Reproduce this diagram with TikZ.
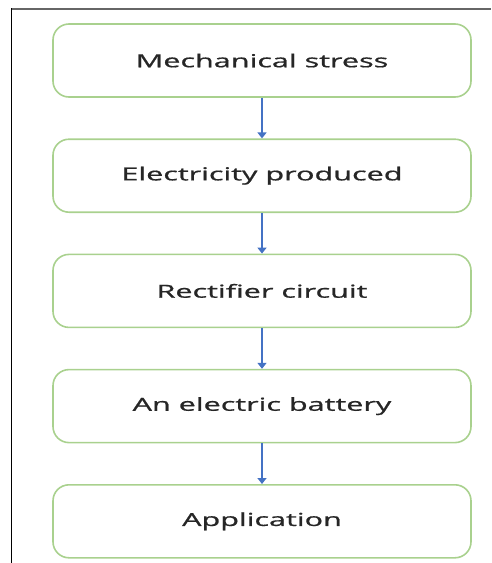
\documentclass[tikz,border=0pt]{standalone}
\usepackage{fontspec}
\setmainfont{Open Sans}
\newfontfamily\stagefont{Open Sans}[FakeBold=0.7]
\usepackage{xcolor}
\usetikzlibrary{arrows.meta, positioning}

\definecolor{boxgreen}{RGB}{169,209,142}
\definecolor{arrowblue}{RGB}{68,114,196}
\newcommand{\widetext}[1]{\scalebox{1.7}[1]{#1}}

\begin{document}
\begin{tikzpicture}[x=1pt, y=-1pt, node distance=40.6pt]
\tikzstyle{stage} = [rectangle, minimum width=418pt, minimum height=73pt, text centered, draw=boxgreen, line width=1.6pt, fill=white, rounded corners=16pt, font=\stagefont\fontsize{18pt}{20pt}\selectfont, text=black!85]
\tikzstyle{arrow} = [draw=arrowblue, line width=1.6pt, -{Triangle[width=9pt,length=6pt]}]

\useasboundingbox (0,0) rectangle (491,563);
% page frame
\draw[black!60, line width=1.4pt] (11,9) -- (491,9);
\draw[black, line width=1.4pt] (11.5,8.3) -- (11.5,563);

\node (stress) [stage] at (262,60.5) {\widetext{Mechanical stress}};
\node (electricity) [stage, below=of stress] {\widetext{Electricity produced}};
\node (rectifier) [stage, below=of electricity] {\widetext{Rectifier circuit}};
\node (battery) [stage, below=of rectifier] {\widetext{An electric battery}};
\node (application) [stage, below=of battery] {\widetext{Application}};

\draw [arrow] (stress) -- (electricity);
\draw [arrow] (electricity) -- (rectifier);
\draw [arrow] (rectifier) -- (battery);
\draw [arrow] (battery) -- (application);
\end{tikzpicture}
\end{document}
